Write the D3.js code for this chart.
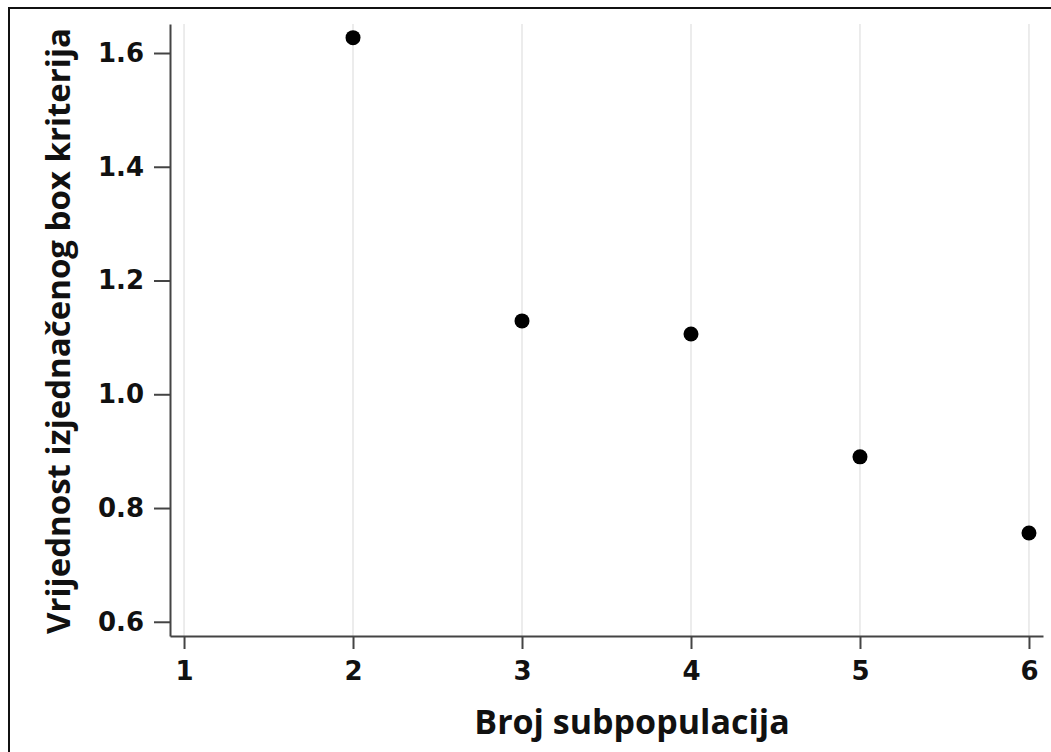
<!DOCTYPE html>
<html>
<head>
<meta charset="utf-8">
<script src="https://cdn.jsdelivr.net/npm/d3@7/dist/d3.min.js"></script>
<style>
  body { margin: 0; background: #fff; }
  .tick text { font-family: "DejaVu Sans", Verdana, sans-serif; font-weight: bold; }
</style>
</head>
<body>
<svg id="chart" width="1051" height="752"></svg>
<script>
// broj subpopulacija i vrijednost kriterija
var subpops = [2, 3, 4, 5, 6];
var boxValues = [1.627, 1.129, 1.106, 0.890, 0.756];
var xTicks = [1, 2, 3, 4, 5, 6];
var yTicks = [0.6, 0.8, 1.0, 1.2, 1.4, 1.6];

var svg = d3.select("#chart");

var plotLeft = 170, plotRight = 1043, plotTop = 24, plotBottom = 636;

var xScale = d3.scaleLinear()
    .domain([0.917, 6.083])
    .range([plotLeft, plotRight]);

var yScale = d3.scaleLinear()
    .domain([0.575, 1.651])
    .range([plotBottom, plotTop]);

// okvir slike
svg.append("path")
    .attr("d", "M9,752 V8 H1051")
    .attr("fill", "none")
    .attr("stroke", "#111")
    .attr("stroke-width", 2);

// vertikalna mreza
svg.append("g")
    .selectAll("line")
    .data(xTicks)
    .enter().append("line")
    .attr("x1", function(d) { return xScale(d); })
    .attr("x2", function(d) { return xScale(d); })
    .attr("y1", plotTop)
    .attr("y2", plotBottom)
    .attr("stroke", "#e6e6e6")
    .attr("stroke-width", 1.5);

var xAxis = d3.axisBottom(xScale)
    .tickValues(xTicks)
    .tickFormat(d3.format("d"))
    .tickSizeInner(13)
    .tickSizeOuter(0)
    .tickPadding(13);

var gx = svg.append("g")
    .attr("transform", "translate(0," + plotBottom + ")")
    .call(xAxis);

var yAxis = d3.axisLeft(yScale)
    .tickValues(yTicks)
    .tickFormat(d3.format(".1f"))
    .tickSizeInner(16)
    .tickSizeOuter(0)
    .tickPadding(10);

var gy = svg.append("g")
    .attr("transform", "translate(" + plotLeft + ",0)")
    .call(yAxis);

[gx, gy].forEach(function(g) {
    g.select(".domain").attr("stroke", "#444").attr("stroke-width", 2);
    g.selectAll(".tick line").attr("stroke", "#444").attr("stroke-width", 2);
    g.selectAll(".tick text").attr("fill", "#111").style("font-size", "26px");
});

// tacke
svg.append("g")
    .selectAll("circle")
    .data(subpops)
    .enter().append("circle")
    .attr("cx", function(d) { return xScale(d); })
    .attr("cy", function(d, i) { return yScale(boxValues[i]); })
    .attr("r", 7.5)
    .attr("fill", "#000");

// naslovi osa
svg.append("text")
    .attr("x", 632)
    .attr("y", 734)
    .attr("text-anchor", "middle")
    .style("font-family", "'Open Sans', sans-serif")
    .style("font-weight", "bold")
    .style("font-size", "34px")
    .attr("fill", "#111")
    .text("Broj subpopulacija");

svg.append("text")
    .attr("transform", "translate(70,331) rotate(-90)")
    .attr("text-anchor", "middle")
    .style("font-family", "'Open Sans', sans-serif")
    .style("font-weight", "bold")
    .style("font-size", "33px")
    .attr("fill", "#111")
    .text("Vrijednost izjednačenog box kriterija");
</script>
</body>
</html>
